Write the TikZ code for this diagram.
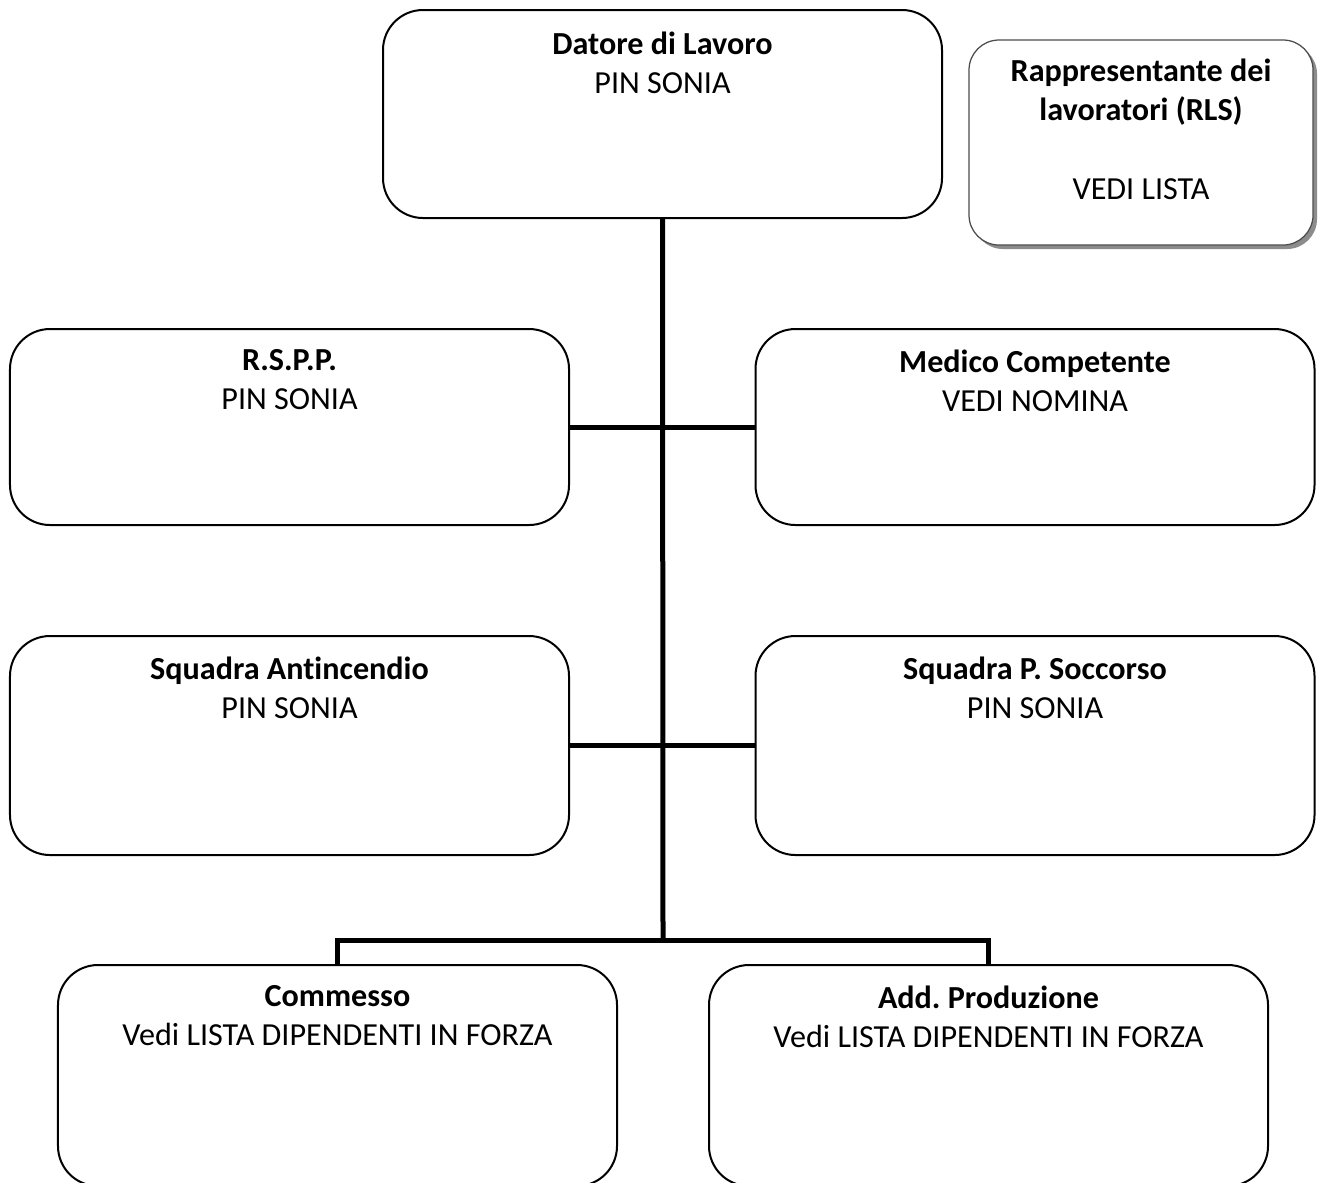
\documentclass[tikz,border=0pt]{standalone}
\usepackage{fontspec}
\setmainfont{Carlito}[RawFeature={-liga;-clig;-calt;-dlig}]
\usetikzlibrary{positioning,shadows}
\tikzset{>=stealth}
\tikzset{
  ruolo/.style={draw, line width=0.8pt, rounded corners=16pt, minimum width=223.6pt, inner sep=0pt},
  testo/.style={align=center, inner sep=0pt, anchor=north, font=\fontsize{12.85}{15.6}\selectfont\frenchspacing},
  linea/.style={line width=2pt}
}

\begin{document}
\begin{tikzpicture}[x=0.4pt,y=-0.4pt]
\useasboundingbox[fill=white] (0,0) rectangle (1324,1182);
\node[ruolo, minimum height=83.2pt] (datore) at (662.5,114) {};
\node[testo, below=8.8pt of datore.north] (datoreT) {\textbf{Datore di Lavoro}\\PIN SONIA};
\node[draw=black!70, line width=0.5pt, fill=white, rounded corners=12pt, minimum width=137.6pt, minimum height=82pt,
  drop shadow={shadow xshift=1.6pt, shadow yshift=-1.6pt, fill=black!45, opacity=1}] (rls) at (1141,142.5) {};
\node[testo, below=7.8pt of rls.north] (rlsT) {\textbf{Rappresentante dei}\\\textbf{lavoratori (RLS)}\\[15.8pt]VEDI LISTA};
%%%%%%%%%%
\node[ruolo, minimum height=78.4pt] (rspp) at (289.5,427) {};
\node[testo, below=8.4pt of rspp.north] (rsppT) {\textbf{R.S.P.P.}\\PIN SONIA};
\node[ruolo, minimum height=78.4pt] (medico) at (1035,427) {};
\node[testo, below=8.4pt of medico.north] (medicoT) {\textbf{Medico Competente}\\VEDI NOMINA};
\node[ruolo, minimum height=87.6pt] (antinc) at (289.5,745.5) {};
\node[testo, below=8.4pt of antinc.north] (antincT) {\textbf{Squadra Antincendio}\\PIN SONIA};
\node[ruolo, minimum height=87.6pt] (soccorso) at (1035,745.5) {};
\node[testo, below=8.4pt of soccorso.north] (soccorsoT) {\textbf{Squadra P. Soccorso}\\PIN SONIA};
%%%%%%%%%%
\node[ruolo, minimum height=88.4pt] (commesso) at (337.5,1075.5) {};
\node[testo, below=8.4pt of commesso.north] (commessoT) {\textbf{Commesso}\\Vedi LISTA DIPENDENTI IN FORZA};
\node[ruolo, minimum height=88.4pt] (addprod) at (988.5,1075.5) {};
\node[testo, below=8.4pt of addprod.north] (addprodT) {\textbf{Add. Produzione}\\Vedi LISTA DIPENDENTI IN FORZA};
%%%%%%%%%%
\coordinate (snodo) at (663,940);
\draw[linea] (datore.south) -- (snodo);
\draw[linea] (rspp.east) -- (medico.west);
\draw[linea] (antinc.east) -- (soccorso.west);
\draw[linea] (commesso.north) |- (snodo) -| (addprod.north);
\end{tikzpicture}
\end{document}
